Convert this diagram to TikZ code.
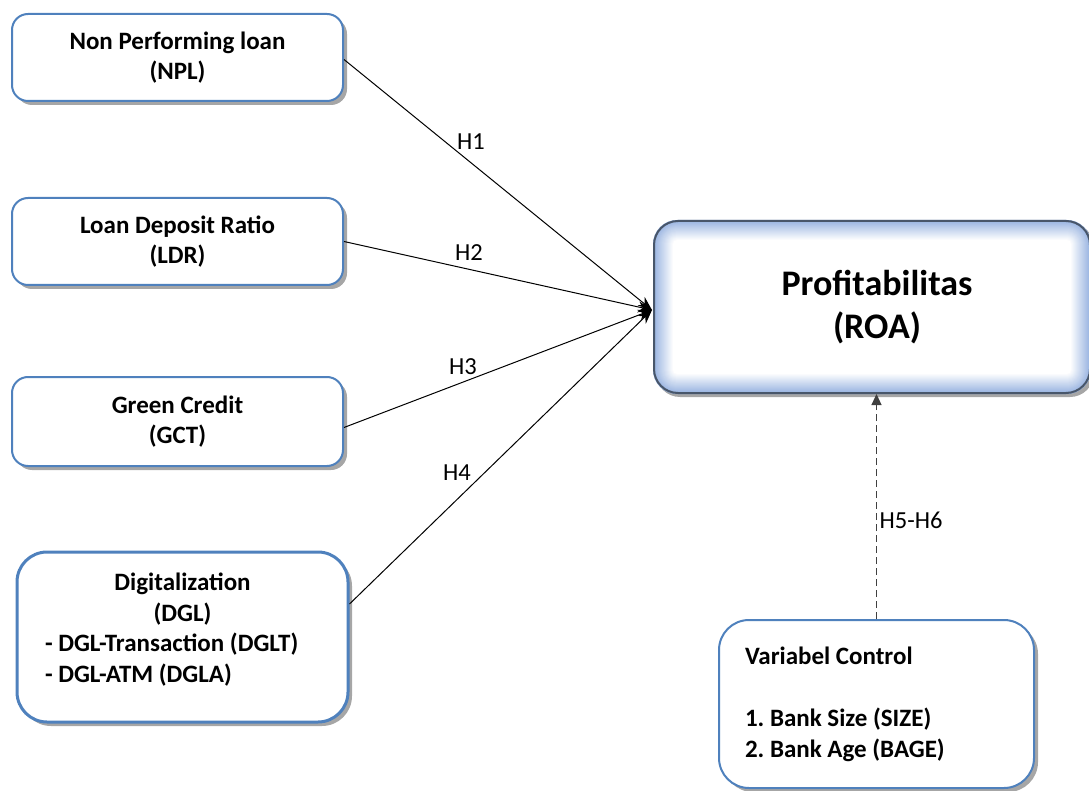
\documentclass[tikz,border=0pt]{standalone}
\usepackage{fontspec}
\setmainfont{Carlito}
\usetikzlibrary{shadows,arrows.meta,backgrounds}
\definecolor{boxblue}{RGB}{79,129,189}
\definecolor{roaedge}{RGB}{72,86,106}
\definecolor{glow}{RGB}{150,178,224}
\frenchspacing
\begin{document}
\begin{tikzpicture}[x=1pt,y=-1pt,
  varbox/.style={draw=boxblue,line width=2pt,rounded corners=16pt,fill=white,
    align=center,font=\bfseries\fontsize{25}{30}\selectfont,inner sep=0pt,
    drop shadow={shadow xshift=4pt,shadow yshift=-4pt,fill=black!35,opacity=1}},
  link/.style={draw=black,line width=1pt,-{Stealth[length=14pt,width=11pt]}},
  hlabel/.style={font=\fontsize{24.5}{28}\selectfont,inner sep=0pt}]
\useasboundingbox (0,0) rectangle (1089,791);

\node[varbox,minimum width=331pt,minimum height=87pt] (npl) at (177.5,57.5)
  {Non Performing loan\\(NPL)};
\node[varbox,minimum width=331pt,minimum height=87pt] (ldr) at (177.5,241.5)
  {Loan Deposit Ratio\\(LDR)};
\node[varbox,minimum width=331pt,minimum height=89pt] (gct) at (177.5,421.5)
  {Green Credit\\(GCT)};
\node[varbox,line width=3pt,rounded corners=30pt,minimum width=331pt,minimum height=170pt,
  text width=275pt,align=flush left,font=\bfseries\fontsize{25}{31}\selectfont] (dgl) at (182.5,637)
  {\makebox[\linewidth]{Digitalization}\\\makebox[\linewidth]{(DGL)}\\[-1pt]- DGL-Transaction (DGLT)\\- DGL-ATM (DGLA)\\[-12pt]\mbox{}};

\node[draw=roaedge,line width=2pt,rounded corners=24pt,minimum width=436pt,minimum height=172pt,
  align=center,font=\bfseries\fontsize{36}{43}\selectfont,inner sep=0pt] (roa) at (872,307)
  {\hspace*{10pt}Profitabilitas\\\hspace*{10pt}(ROA)};
\begin{scope}[on background layer]
  \fill[black!35,rounded corners=24pt] ([shift={(3,3)}]roa.north west) rectangle ([shift={(3,3)}]roa.south east);
  \foreach \i in {0,...,20}{
    \pgfmathtruncatemacro\p{100-5*\i}
    \pgfmathsetmacro\r{max(24-\i,2)}
    \fill[glow!\p!white,rounded corners=\r pt] ([shift={(\i,\i)}]roa.north west) rectangle ([shift={(-\i,-\i)}]roa.south east);
  }
\end{scope}

\node[varbox,rounded corners=30pt,minimum width=315pt,minimum height=168pt,
  text width=263pt,align=flush left,font=\bfseries\fontsize{25}{31}\selectfont] (vc) at (876.5,704)
  {Variabel Control\\\mbox{}\\1. Bank Size (SIZE)\\2. Bank Age (BAGE)};

\coordinate (tip) at (652,310);
\draw[link] ([yshift=-2pt]npl.east) -- (tip);
\draw[link] (ldr.east) -- (tip);
\draw[link] ([yshift=-6pt]gct.east) -- (tip);
\draw[link] ([yshift=33pt]dgl.east) -- (tip);
\draw[draw=black!75,line width=1pt,dash pattern=on 7pt off 4pt,-{Triangle[length=11pt,width=10pt]}]
  (vc.north) -- (vc.north |- roa.south);

\node[hlabel] (h1) at (471,142) {H1};
\node[hlabel] (h2) at (469,253) {H2};
\node[hlabel] (h3) at (463,367) {H3};
\node[hlabel] (h4) at (457,473) {H4};
\node[hlabel] (h56) at (911,520) {H5-H6};
\end{tikzpicture}
\end{document}
